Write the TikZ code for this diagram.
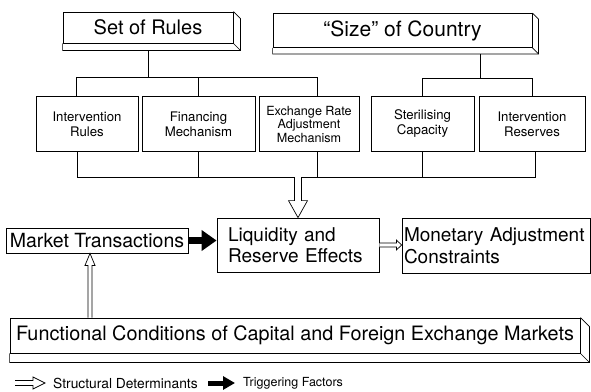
\documentclass[tikz,border=0pt]{standalone}
\usepackage{fontspec}
\setmainfont{TeX Gyre Heros}
\usetikzlibrary{arrows.meta, calc}

\tikzset{
  box/.style={draw, line width=0.8pt, inner sep=0pt, align=center},
  big/.style={font=\fontsize{19.5}{21.5}\selectfont},
  small/.style={font=\fontsize{13.2}{15}\selectfont},
  legend/.style={font=\fontsize{12.5}{14}\selectfont, anchor=west, inner sep=0pt},
  hollow/.style={draw, line width=0.7pt, fill=white, line join=miter},
  link/.style={line width=0.7pt},
}

\begin{document}
\begin{tikzpicture}[x=1pt, y=-1pt]
  \useasboundingbox (0,0) rectangle (591,391);
  % Top determinants
  \node[box, big, minimum width=170pt, minimum height=31pt, font=\fontsize{20}{22}\selectfont] (rules) at (148,27.5) {Set of Rules};
  \node[box, big, minimum width=259pt, minimum height=34pt, font=\fontsize{21}{22}\selectfont] (size) at (402.5,30.5) {“Size” of Country};
  % Second row
  \node[box, small, minimum width=102pt, minimum height=55pt] (irules) at (87,124) {Intervention\\Rules};
  \node[box, small, minimum width=113pt, minimum height=55pt] (finm) at (198.5,124) {Financing\\Mechanism};
  \node[box, small, minimum width=100pt, minimum height=55pt, font=\fontsize{12.6}{13.5}\selectfont] (exr) at (309,124) {Exchange Rate\\Adjustment\\Mechanism};
  \node[box, small, minimum width=103pt, minimum height=55pt] (steril) at (422.5,124) {Sterilising\\Capacity};
  \node[box, small, minimum width=106pt, minimum height=55pt] (intres) at (532,124) {Intervention\\Reserves};
  % Effects
  \node[box, big, align=left, text width=140pt, inner xsep=11pt, minimum height=54pt, font=\fontsize{19}{21.5}\selectfont] (liq) at (298,245) {Liquidity and\\Reserve Effects};
  \node[box, big, align=left, text width=184pt, inner xsep=2pt, minimum height=55pt, font=\fontsize{19}{21.5}\selectfont] (mon) at (496,245.5) {Monetary Adjustment\\Constraints};
  \node[box, big, minimum width=182pt, minimum height=25pt] (market) at (97,240.5) {Market Transactions};
  \node[box, big, minimum width=570pt, minimum height=35pt, font=\fontsize{19.8}{22}\selectfont] (func) at (295,335.5) {Functional Conditions of Capital and Foreign Exchange Markets};
  % Slabs
  \foreach \n/\d in {rules/7, size/6, func/9} {
    \draw[link] (\n.north east) -- ++(\d,\d) -- ($(\n.south east)+(\d,\d)$) -- ($(\n.south west)+(0,\d)$) -- (\n.south west);
    \draw[link] (\n.south east) -- ++(\d,\d);
  }
  % Upper tree
  \coordinate (ytop) at (0,77);
  \coordinate (ysz) at (0,78);
  \draw[link] ($(rules.south)+(0,7)$) -- (rules.south |- ytop);
  \draw[link] ($(irules.north)+(-11,0)$) |- ($(exr.north |- ytop)+(8,0)$) -- ($(exr.north)+(8,0)$);
  \draw[link] (finm.north) -- (finm.north |- ytop);
  \draw[link] ($(size.south)+(78,6)$) -- ($(size.south |- ysz)+(78,0)$);
  \draw[link] (steril.north) |- (intres.north |- ysz) -- (intres.north);
  % Lower tree
  \coordinate (ybot) at (0,177);
  \draw[link] ($(irules.south)+(-10,0)$) |- ($(intres.south |- ybot)+(3,0)$) -- ($(intres.south)+(3,0)$);
  \draw[link] (finm.south) -- (finm.south |- ybot);
  \draw[link] ($(exr.south)+(8,0)$) -- ($(exr.south |- ybot)+(8,0)$);
  \draw[link] (steril.south) -- (steril.south |- ybot);
  % Structural arrow into effects
  \coordinate (hub) at (liq.north |- ybot);
  \draw[hollow] ($(hub)+(-3.5,0)$) -- ($(liq.north)+(-3.5,-17)$) -- ($(liq.north)+(-9.5,-17)$) -- (liq.north)
    -- ($(liq.north)+(9.5,-17)$) -- ($(liq.north)+(3.5,-17)$) -- ($(hub)+(3.5,0)$);
  % Triggering arrow
  \draw[line width=7pt, -{Triangle[length=15pt, width=20pt]}] (market.east) -- (liq.west |- market.east);
  % Effects to constraints
  \draw[hollow] ($(liq.east)+(0,-2)$) -- ($(liq.east)+(17,-2)$) -- ($(liq.east)+(17,-5)$) -- (mon.west |- liq.east)
    -- ($(liq.east)+(17,5)$) -- ($(liq.east)+(17,2)$) -- ($(liq.east)+(0,2)$);
  % Markets to transactions
  \coordinate (fup) at ($(market.south)+(-7,0)$);
  \draw[hollow] ($(fup |- func.north)+(-2,0)$) -- ($(fup)+(-2,12)$) -- ($(fup)+(-5,12)$) -- (fup)
    -- ($(fup)+(5,12)$) -- ($(fup)+(2,12)$) -- ($(fup |- func.north)+(2,0)$);
  % Legend
  \node[legend, font=\fontsize{13.8}{15}\selectfont] (lstruct) at (53,383) {Structural Determinants};
  \node[legend] (ltrig) at (243,383) {Triggering Factors};
  \draw[hollow] ($(lstruct.west)+(-38,-2.5)$) -- ($(lstruct.west)+(-20,-2.5)$) -- ($(lstruct.west)+(-20,-6)$) -- ($(lstruct.west)+(-8,0)$)
    -- ($(lstruct.west)+(-20,6)$) -- ($(lstruct.west)+(-20,2.5)$) -- ($(lstruct.west)+(-38,2.5)$);
  \draw[line width=5pt, -{Triangle[length=12pt, width=13pt]}] ($(ltrig.west)+(-35,0)$) -- ($(ltrig.west)+(-8,0)$);
\end{tikzpicture}
\end{document}
